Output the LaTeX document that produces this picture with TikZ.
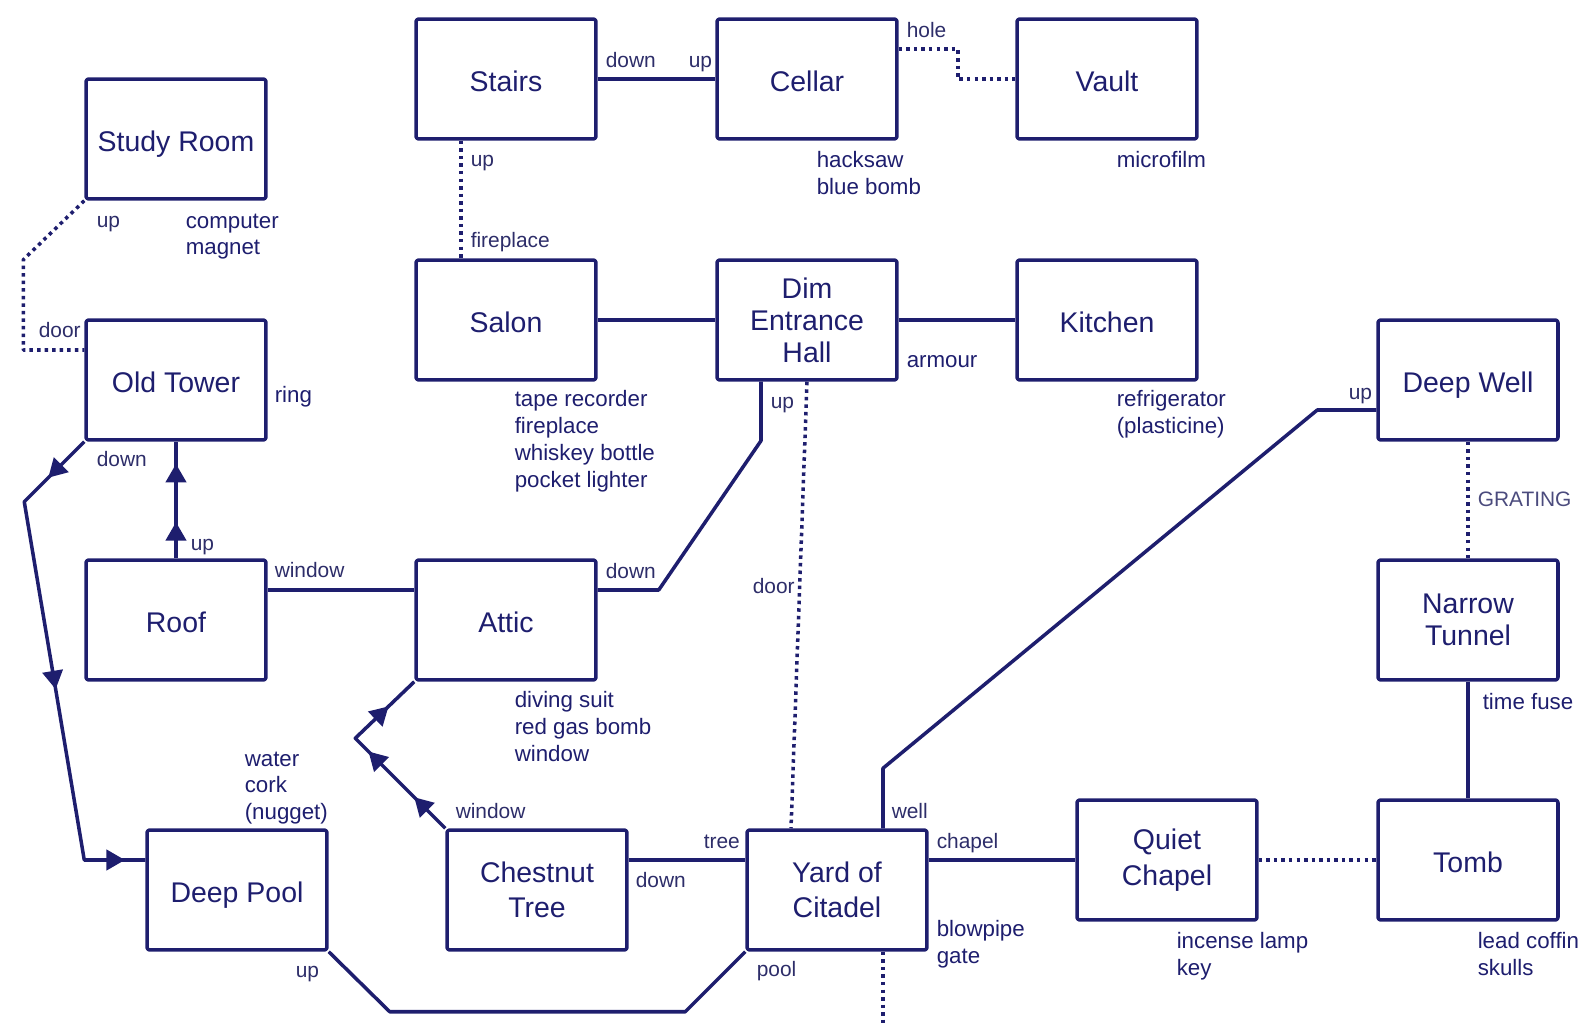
\documentclass[tikz,border=0pt]{standalone}
\usepackage{fontspec}
\setmainfont{Liberation Sans}
\usepackage{tikz}
\usetikzlibrary{calc, arrows.meta, decorations.markings}
\definecolor{ink}{RGB}{30,30,110}
\definecolor{exitink}{RGB}{45,45,105}
\definecolor{gratink}{RGB}{75,75,125}

\begin{document}
\begin{tikzpicture}[x=0.02cm, y=-0.02cm, ink, line width=2pt, line join=round,
  room/.style = {draw, rounded corners=1.5pt, minimum width=3.6cm, minimum height=2.4cm, align=center, inner sep=0pt, font=\fontsize{16.2}{18.2}\selectfont},
  one/.style = {text height=15pt, text depth=0.8pt},
  loose/.style = {font=\fontsize{16.2}{20.1}\selectfont},
  item/.style = {anchor=north west, align=left, inner sep=0pt, font=\fontsize{12.7}{15.2}\selectfont},
  exit/.style = {anchor=west, inner sep=0pt, text=exitink, font=\fontsize{11.9}{14}\selectfont},
  dotline/.style = {dash pattern=on 2pt off 2.3pt},
  oneway/.style = {postaction={decorate, decoration={markings, mark=at position #1 with {\arrow{Triangle[length=10.5pt, width=11.5pt]}}}}}]
  \useasboundingbox (0,0) rectangle (1587,1027);

  \node[room, one] (study) at (176,139) {Study Room};
  \node[room, one] (tower) at (176,380) {Old Tower};
  \node[room, one] (roof) at (176,620) {Roof};
  \node[room, one] (pool) at (237,890) {Deep Pool};
  \node[room, one] (stairs) at (506,79) {Stairs};
  \node[room, one] (cellar) at (807,79) {Cellar};
  \node[room, one] (vault) at (1107,79) {Vault};
  \node[room, one] (salon) at (506,320) {Salon};
  \node[room] (hall) at (807,320) {Dim\\Entrance\\Hall};
  \node[room, one] (kitchen) at (1107,320) {Kitchen};
  \node[room, one] (well) at (1468,380) {Deep Well};
  \node[room] (tunnel) at (1468,620) {Narrow\\Tunnel};
  \node[room, one] (attic) at (506,620) {Attic};
  \node[room, loose] (tree) at (537,890) {Chestnut\\Tree};
  \node[room, loose] (yard) at (837,890) {Yard of\\Citadel};
  \node[room, loose] (chapel) at (1167,860) {Quiet\\Chapel};
  \node[room, one] (tomb) at (1468,860) {Tomb};

  \node[item] (i1) at (184,212) {computer\\magnet};
  \node[item] (i2) at (273,385) {ring};
  \node[item] (i3) at (815,150) {hacksaw\\blue bomb};
  \node[item] (i4) at (1115,150) {microfilm};
  \node[item] (i5) at (513,389) {tape recorder\\fireplace\\whiskey bottle\\pocket lighter};
  \node[item] (i6) at (905,354) {armour};
  \node[item] (i7) at (1115,389) {refrigerator\\(plasticine)};
  \node[item] (i8) at (513,690) {diving suit\\red gas bomb\\window};
  \node[item] (i9) at (243,750) {water\\cork\\(nugget)};
  \node[item] (i10) at (1481,692) {time fuse};
  \node[item] (i11) at (935,919) {blowpipe\\gate};
  \node[item] (i12) at (1175,931) {incense lamp\\key};
  \node[item] (i13) at (1476,931) {lead coffin\\skulls};

  \node[exit] (e1) at (95,224) {up};
  \node[exit] (e2) at (37,330) {door};
  \node[exit] (e3) at (95,459) {down};
  \node[exit] (e4) at (189,547) {up};
  \node[exit] (e5) at (273,570) {window};
  \node[exit] (e6) at (905,30) {hole};
  \node[exit] (e7) at (604,60) {down};
  \node[exit] (e8) at (687,64) {up};
  \node[exit] (e9) at (469,163) {up};
  \node[exit] (e10) at (469,242) {fireplace};
  \node[exit] (e11) at (769,405) {up};
  \node[exit] (e12) at (604,571) {down};
  \node[exit] (e13) at (751,586) {door};
  \node[exit] (e14) at (1347,396) {up};
  \node[exit, text=gratink] (e15) at (1476,499) {GRATING};
  \node[exit] (e16) at (454,811) {window};
  \node[exit] (e17) at (890,811) {well};
  \node[exit] (e18) at (702,842) {tree};
  \node[exit] (e19) at (935,843) {chapel};
  \node[exit] (e20) at (634,880) {down};
  \node[exit] (e21) at (294,974) {up};
  \node[exit] (e22) at (755,971) {pool};

  \draw[dotline] (study.south west) -- ++(-61,59) |- ($(tower.west)+(0,-30)$);
  \draw[oneway=0.1, oneway=0.54, oneway=0.96] (tower.south west) -- ++(-60,60) -- ($(pool.west)+(-61,-30)$) -- ($(pool.west)+(0,-30)$);
  \draw[oneway=0.31, oneway=0.81] (roof.north) -- (tower.south);
  \draw ($(roof.east)+(0,-30)$) -- ($(attic.west)+(0,-30)$);
  \draw ($(attic.east)+(0,-30)$) -- ++(61,0) -- ($(hall.south)+(-46,59)$) -- ($(hall.south)+(-46,0)$);
  \draw[oneway=0.21, oneway=0.52, oneway=0.83] (tree.north west) -- ++(-90,-90) -- (attic.south west);
  \draw (stairs) to (cellar);
  \draw[dotline] ($(cellar.east)+(0,-30)$) -- ++(59,0) |- (vault.west);
  \draw[dotline] ($(stairs.south)+(-45,0)$) -- ($(salon.north)+(-45,0)$);
  \draw (salon) to (hall);
  \draw (hall) to (kitchen);
  \draw[dotline] (hall.south) -- ($(yard.north)+(-46,0)$);
  \draw ($(yard.north)+(46,0)$) -- ++(0,-60) -- ($(well.west)+(-59,30)$) -- ($(well.west)+(0,30)$);
  \draw[dotline] (well) to (tunnel);
  \draw (tunnel) to (tomb);
  \draw[dotline] (chapel) to (tomb);
  \draw ($(yard.east)+(0,-30)$) -- (chapel.west);
  \draw ($(tree.east)+(0,-30)$) -- ($(yard.west)+(0,-30)$);
  \draw (pool.south east) -- ++(61,60) -- ($(yard.south west)+(-60,60)$) -- (yard.south west);
  \coordinate (gate) at (883,1027);
  \draw[dotline] ($(yard.south)+(46,0)$) -- (gate);
\end{tikzpicture}
\end{document}
